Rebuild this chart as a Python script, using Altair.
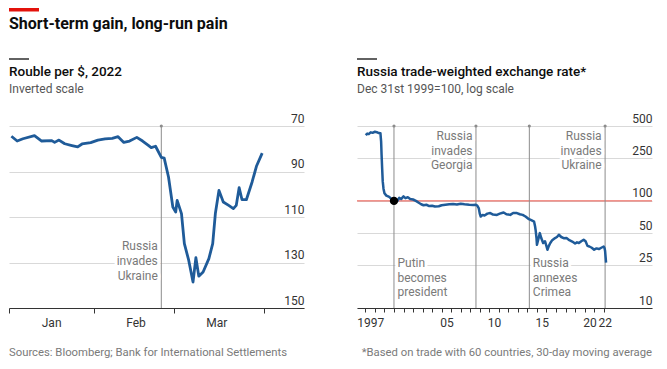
import altair as alt
import pandas as pd

# ---------------- text ----------------
MAIN_TITLE = "Short-term gain, long-run pain"
LEFT_TITLE = "Rouble per $, 2022"
LEFT_SUB = "Inverted scale"
RIGHT_TITLE = "Russia trade-weighted exchange rate*"
RIGHT_SUB = "Dec 31st 1999=100, log scale"
SOURCE = "Sources: Bloomberg; Bank for International Settlements"
FOOTNOTE = "*Based on trade with 60 countries, 30-day moving average"

# ---------------- left panel: rouble per $ ----------------
rub_dates = [
    "2022-01-03T12:00", "2022-01-05T12:00", "2022-01-07T12:00", "2022-01-11T12:00",
    "2022-01-14T00:00", "2022-01-17T12:00", "2022-01-18T12:00", "2022-01-20T00:00",
    "2022-01-22T00:00", "2022-01-24T12:00", "2022-01-26T12:00", "2022-01-28T00:00",
    "2022-01-31T00:00", "2022-02-02T12:00", "2022-02-05T00:00", "2022-02-07T12:00",
    "2022-02-09T12:00", "2022-02-11T12:00", "2022-02-13T12:00", "2022-02-16T00:00",
    "2022-02-18T00:00", "2022-02-20T00:00", "2022-02-21T00:00", "2022-02-22T12:00",
    "2022-02-24T12:00", "2022-02-25T12:00", "2022-02-27T00:00", "2022-02-28T12:00",
    "2022-03-01T12:00", "2022-03-02T00:00", "2022-03-03T12:00", "2022-03-04T12:00",
    "2022-03-06T00:00", "2022-03-07T12:00", "2022-03-08T12:00", "2022-03-09T12:00",
    "2022-03-11T00:00", "2022-03-13T00:00", "2022-03-14T08:00", "2022-03-15T06:00",
    "2022-03-16T12:00", "2022-03-18T00:00", "2022-03-20T00:00", "2022-03-21T12:00",
    "2022-03-22T12:00", "2022-03-23T12:00", "2022-03-24T12:00", "2022-03-26T00:00",
    "2022-03-28T00:00", "2022-03-29T12:00", "2022-03-31T12:00",
]
rub_values = [
    74.5, 76.6, 75.6, 74.2,
    76.6, 76.4, 77.2, 76.2,
    77.8, 78.6, 79.2, 77.9,
    77.3, 76.2, 75.7, 75.4,
    74.7, 77.2, 76.6, 75.0,
    76.6, 78.5, 79.5, 78.9,
    83.8, 84.1, 92.4, 105.6,
    107.8, 102.7, 108.5, 121.7,
    129.0, 138.6, 127.9, 136.0,
    134.2, 128.3, 121.7, 108.5,
    98.3, 103.4, 105.0, 106.3,
    104.9, 97.1, 102.4, 102.4,
    94.6, 87.7, 81.9,
]
left_tick_values = [70, 90, 110, 130, 150]
left_domain = [70, 150]
ukraine_date = "2022-02-24T12:00"
left_note = "Russia\ninvades\nUkraine"
left_note_value = 124.5

# ---------------- right panel: trade-weighted rate ----------------
twi_years = [
    1997.03, 1997.2, 1997.35, 1997.55, 1997.75, 1998.0, 1998.2, 1998.4, 1998.58, 1998.65,
    1998.7, 1998.76, 1998.82, 1998.9, 1999.0, 1999.2, 1999.5, 1999.75, 2000.0, 2000.2,
    2000.4, 2000.55, 2000.75, 2001.0, 2001.2, 2001.45, 2001.7, 2002.0, 2002.3, 2002.6,
    2002.85, 2003.1, 2003.4, 2003.7, 2004.0, 2004.3, 2004.7, 2005.0, 2005.4, 2005.8,
    2006.2, 2006.6, 2007.0, 2007.4, 2007.9, 2008.3, 2008.6, 2008.75, 2008.9, 2009.0,
    2009.1, 2009.3, 2009.5, 2009.8, 2010.1, 2010.4, 2010.8, 2011.1, 2011.5, 2011.8,
    2012.2, 2012.5, 2012.9, 2013.2, 2013.5, 2013.8, 2014.1, 2014.4, 2014.7, 2014.8,
    2014.86, 2014.95, 2015.0, 2015.15, 2015.3, 2015.45, 2015.65, 2015.85, 2016.1, 2016.25,
    2016.4, 2016.6, 2016.9, 2017.1, 2017.3, 2017.55, 2017.8, 2018.1, 2018.4, 2018.7,
    2019.0, 2019.2, 2019.4, 2019.65, 2019.9, 2020.1, 2020.3, 2020.5, 2020.75, 2021.0,
    2021.25, 2021.5, 2021.75, 2022.0, 2022.1, 2022.15, 2022.2, 2022.25,
]
twi_values = [
    410, 425, 420, 436, 432, 442, 438, 430, 427, 360,
    268, 200, 152, 130, 118, 112, 109, 104, 100, 104,
    101, 107, 104, 110, 106, 108, 104, 103, 100, 96,
    93, 91, 92, 89.5, 90, 88.5, 89, 91, 92, 93,
    93.5, 92.5, 94, 93, 92, 91.5, 92, 90, 85, 76,
    71.5, 74, 73, 76, 77, 74.5, 74, 76, 78, 75,
    74, 77, 77, 75, 74, 71.5, 68, 66, 64, 58,
    53.5, 45, 38.9, 44, 50, 45, 40.4, 42, 35, 38,
    40.4, 43, 45, 46, 48.3, 46, 44.9, 45, 43, 41.7,
    40, 41, 40.4, 42, 43.4, 42, 38, 37.5, 36.5, 35,
    36, 35.5, 36.5, 37.5, 36, 34, 30, 26.5,
]
right_tick_values = [10, 25, 50, 100, 250, 500]
right_domain = [10, 500]
year_domain = [1996.12, 2027.07]
year_ticks = list(range(1997, 2023))
year_labels = {1997: "1997", 2005: "05", 2010: "10", 2015: "15", 2020: "20", 2022: "22"}
base_value = 100
putin_year = 2000.0
event_years = [2000.0, 2008.6, 2014.2, 2022.15]
event_labels = ["Putin\nbecomes\npresident", "Russia\ninvades\nGeorgia",
                "Russia\nannexes\nCrimea", "Russia\ninvades\nUkraine"]
event_label_values = [23.9, 370, 23.9, 370]
event_sides = ["left", "right", "left", "right"]

# ---------------- style ----------------
FONT = "Roboto"
BLUE = "#1F5B99"
RED = "#E3120B"
PINK = "#ee6f66"
GRID = "#d9d9d9"
AXIS = "#333333"
NOTE = "#7a7a7a"
W, H = 295, 182

# ---------------- left panel ----------------
left_x_axis = alt.Axis(
    values=[alt.DateTime(year=2022, month=1, date=2, hours=17),
            alt.DateTime(year=2022, month=2, date=1),
            alt.DateTime(year=2022, month=3, date=1),
            alt.DateTime(year=2022, month=4, date=1)],
    labelExpr="month(datum.value) == 3 ? '' : timeFormat(datum.value, '%b')",
    labelOffset=42, tickSize=5, labelPadding=13, labelBaseline="alphabetic",
    grid=False, title=None, labelFlush=False, labelOverlap=False, labelBound=False,
)
left_y_axis = alt.Axis(
    values=left_tick_values, orient="right", grid=True, domain=False, ticks=False,
    tickSize=0, labelAlign="right", labelBaseline="alphabetic", labelPadding=0,
    labelOffset=-4, title=None, labelFlush=False, labelOverlap=False,
)
left_x_scale = alt.Scale(domain=[alt.DateTime(year=2022, month=1, date=2, hours=16),
                                 alt.DateTime(year=2022, month=4, date=15)])
left_y_scale = alt.Scale(domain=left_domain, reverse=True, nice=False, zero=False)


def LX(field="date"):
    return alt.X(f"{field}:T", scale=left_x_scale, axis=left_x_axis)


def LY(field="value"):
    return alt.Y(f"{field}:Q", scale=left_y_scale, axis=left_y_axis)


rub_df = pd.DataFrame({"date": rub_dates, "value": rub_values})
lev_df = pd.DataFrame({"date": [ukraine_date], "value": [left_domain[0]],
                       "value2": [left_domain[1]], "ly": [left_note_value],
                       "label": [left_note]})

left_line = alt.Chart(rub_df).mark_line(color=BLUE, strokeWidth=2.8, strokeJoin="round").encode(
    x=LX(), y=LY())
left_rule = alt.Chart(lev_df).mark_rule(color="#8c8c8c", strokeWidth=1).encode(
    x=LX(), y=LY(), y2="value2:Q")
left_dot = alt.Chart(lev_df).mark_circle(color="#8c8c8c", size=10, opacity=1).encode(
    x=LX(), y=LY())
note_kw = dict(align="right", baseline="alphabetic", dx=-3.5, lineBreak="\n", lineHeight=15,
               font=FONT, fontSize=12)
left_halo = alt.Chart(lev_df).mark_text(color="white", stroke="white", strokeWidth=6,
                                        strokeJoin="round", **note_kw).encode(
    x=LX(), y=LY("ly"), text="label:N")
left_text = alt.Chart(lev_df).mark_text(color=NOTE, **note_kw).encode(
    x=LX(), y=LY("ly"), text="label:N")

one = pd.DataFrame({"k": [0]})
red_bar = alt.Chart(one).mark_rect(color=RED).encode(
    x=alt.value(0), x2=alt.value(30), y=alt.value(-118), y2=alt.value(-114.5))
main_title = alt.Chart(pd.DataFrame({"t": [MAIN_TITLE]})).mark_text(
    align="left", baseline="alphabetic", font=FONT, fontSize=16, fontWeight="bold",
    color="#0d0d0d").encode(x=alt.value(0), y=alt.value(-97.5), text="t:N")


def panel_head(title, sub):
    bar = alt.Chart(one).mark_rule(color="#0d0d0d", strokeWidth=1.3).encode(
        x=alt.value(0), x2=alt.value(20), y=alt.value(-67))
    t = alt.Chart(pd.DataFrame({"t": [title]})).mark_text(
        align="left", baseline="alphabetic", font=FONT, fontSize=13.5, fontWeight=500,
        color="#0d0d0d").encode(x=alt.value(0), y=alt.value(-50), text="t:N")
    s = alt.Chart(pd.DataFrame({"t": [sub]})).mark_text(
        align="left", baseline="alphabetic", font=FONT, fontSize=12,
        color="#555555").encode(x=alt.value(0), y=alt.value(-32.7), text="t:N")
    return [bar, t, s]


source = alt.Chart(pd.DataFrame({"t": [SOURCE]})).mark_text(
    align="left", baseline="alphabetic", font=FONT, fontSize=11.3, color=NOTE).encode(
    x=alt.value(0), y=alt.value(230), text="t:N")

left = alt.layer(
    left_rule, left_dot, left_halo, left_text, left_line,
    red_bar, main_title, *panel_head(LEFT_TITLE, LEFT_SUB), source,
).properties(width=W, height=H)

# ---------------- right panel ----------------
label_expr = " : ".join(f"datum.value == {y} ? '{s}'" for y, s in year_labels.items()) + " : ''"
right_x_axis = alt.Axis(
    values=year_ticks, labelExpr=label_expr,
    labelOffset={"condition": {"test": "datum.value == 2022", "value": 1.1}, "value": 4.77},
    tickSize=4, labelPadding=14, labelBaseline="alphabetic", grid=False, title=None,
    labelFlush=False, labelOverlap=False, labelBound=False,
)
right_y_axis = alt.Axis(
    values=right_tick_values, orient="right", grid=True, domain=False, ticks=False,
    tickSize=0, labelAlign="right", labelBaseline="alphabetic", labelPadding=0,
    labelOffset=-4, title=None, labelFlush=False, labelOverlap=False, format="d",
)
right_x_scale = alt.Scale(domain=year_domain, nice=False, zero=False)
right_y_scale = alt.Scale(type="log", domain=right_domain, nice=False)


def RX(field="year"):
    return alt.X(f"{field}:Q", scale=right_x_scale, axis=right_x_axis)


def RY(field="value"):
    return alt.Y(f"{field}:Q", scale=right_y_scale, axis=right_y_axis)


twi_df = pd.DataFrame({"year": twi_years, "value": twi_values})
ev_df = pd.DataFrame({"year": event_years, "value": [right_domain[1]] * 4,
                      "value2": [right_domain[0]] * 4, "ly": event_label_values,
                      "label": event_labels, "side": event_sides})
ev_left = ev_df[ev_df["side"] == "left"]
ev_right = ev_df[ev_df["side"] == "right"]
base_df = pd.DataFrame({"year": [year_domain[0]], "year2": [year_domain[1]], "value": [base_value]})
putin_df = pd.DataFrame({"year": [putin_year], "value": [base_value]})

base_rule = alt.Chart(base_df).mark_rule(color=PINK, strokeWidth=1.2).encode(
    x=RX(), x2="year2:Q", y=RY())
ev_rules = alt.Chart(ev_df).mark_rule(color="#8c8c8c", strokeWidth=1).encode(
    x=RX(), y=RY(), y2="value2:Q")
ev_dots = alt.Chart(ev_df).mark_circle(color="#8c8c8c", size=10, opacity=1).encode(
    x=RX(), y=RY())

layers = [base_rule, ev_rules, ev_dots]
for sub, al, dx in [(ev_left, "left", 3.5), (ev_right, "right", -3.5)]:
    kw = dict(align=al, baseline="alphabetic", dx=dx, lineBreak="\n", lineHeight=14.5,
              font=FONT, fontSize=12)
    layers.append(alt.Chart(sub).mark_text(color="white", stroke="white", strokeWidth=6,
                                           strokeJoin="round", **kw).encode(
        x=RX(), y=RY("ly"), text="label:N"))
    layers.append(alt.Chart(sub).mark_text(color=NOTE, **kw).encode(
        x=RX(), y=RY("ly"), text="label:N"))

twi_line = alt.Chart(twi_df).mark_line(color=BLUE, strokeWidth=2.5, strokeJoin="round").encode(
    x=RX(), y=RY())
putin_dot = alt.Chart(putin_df).mark_circle(color="black", size=70, opacity=1).encode(
    x=RX(), y=RY())
footnote = alt.Chart(pd.DataFrame({"t": [FOOTNOTE]})).mark_text(
    align="right", baseline="alphabetic", font=FONT, fontSize=11.3, color=NOTE).encode(
    x=alt.value(W), y=alt.value(230), text="t:N")

right = alt.layer(
    *layers, twi_line, putin_dot, *panel_head(RIGHT_TITLE, RIGHT_SUB), footnote,
).properties(width=W, height=H)

chart = alt.hconcat(left, right, spacing=50).properties(
    padding={"left": 0, "top": 0, "right": 5, "bottom": 5},
    background="white",
).configure_view(stroke=None).configure_axis(
    labelFont=FONT, labelFontSize=12, labelColor=AXIS, domainColor=AXIS, tickColor=AXIS,
    gridColor=GRID, gridWidth=1, domainWidth=1,
)

chart.save("out.html", embed_options={"renderer": "svg", "actions": False})
